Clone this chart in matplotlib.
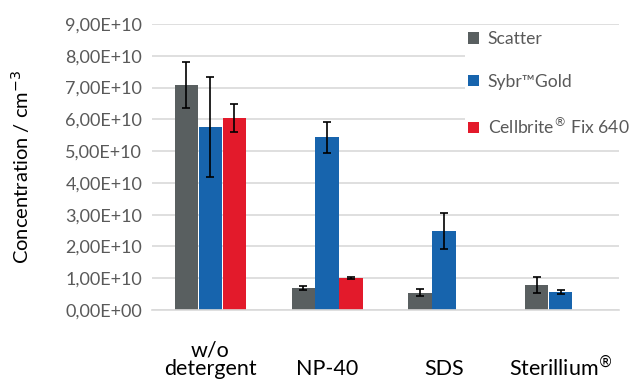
import matplotlib
matplotlib.use("Agg")
import matplotlib.pyplot as plt
import numpy as np
from matplotlib.ticker import FuncFormatter, MultipleLocator

plt.rcParams['font.family'] = ['Lato', 'DejaVu Sans']

groups = ["w/o\ndetergent", "NP-40", "SDS", r"Sterillium$^{\circledR}$"]
series = ["Scatter", "Sybr™Gold", r"Cellbrite$^{\circledR}$ Fix 640"]
colors = ["#595F60", "#1764AD", "#E31A2B"]

# values in 1e10 / cm^3, None = not measured
scatter = [7.08, 0.69, 0.55, 0.78]
scatter_err = [0.73, 0.05, 0.10, 0.26]
sybr = [5.76, 5.43, 2.49, 0.57]
sybr_err = [1.58, 0.50, 0.57, 0.06]
cellbrite = [6.04, 1.01, None, None]
cellbrite_err = [0.43, 0.02, None, None]

values = [scatter, sybr, cellbrite]
errors = [scatter_err, sybr_err, cellbrite_err]

fig = plt.figure(figsize=(6.35, 3.83), dpi=100)
ax = fig.add_axes([152 / 635, (383 - 310) / 383, 467 / 635, 286 / 383])

x = np.arange(len(groups))
w = 0.2
step = 0.205
for i, (vals, errs) in enumerate(zip(values, errors)):
    xs = [xi + (i - 1) * step for xi, v in zip(x, vals) if v is not None]
    ys = [v * 1e10 for v in vals if v is not None]
    es = [e * 1e10 for e in errs if e is not None]
    ax.bar(xs, ys, width=w, color=colors[i], label=series[i], zorder=2)
    ax.errorbar(xs, ys, yerr=es, fmt="none", ecolor="black", elinewidth=1.2,
                capsize=2.6, capthick=1.2, zorder=3)

ax.set_xlim(-0.5, 3.5)
ax.set_ylim(0, 9e10)
ax.yaxis.set_major_locator(MultipleLocator(1e10))
ax.yaxis.set_major_formatter(FuncFormatter(lambda v, p: f"{v:.2E}".replace(".", ",")))
ax.grid(axis="y", color="#D9D9D9", linewidth=1.2, zorder=0)
ax.set_axisbelow(True)
for s in ["top", "right", "left"]:
    ax.spines[s].set_visible(False)
ax.spines["bottom"].set_color("#D9D9D9")
ax.spines["bottom"].set_linewidth(1.2)
ax.tick_params(axis="y", length=0, pad=7, labelsize=13, labelcolor="#595959")
ax.tick_params(axis="x", length=0, pad=50, labelsize=15.5, labelcolor="black")
ax.set_xticks(x)
ax.set_xticklabels(groups, linespacing=0.95)
for lab in ax.get_xticklabels():
    lab.set_va("bottom")

ax.set_ylabel("Concentration / cm$^{-3}$", fontsize=14.5, labelpad=24)

leg = ax.legend(loc="upper left", bbox_to_anchor=(456 / 635, 1 - 19 / 383),
                bbox_transform=fig.transFigure, frameon=True, edgecolor="none",
                facecolor="white", framealpha=1, fontsize=12.6,
                handlelength=0.62, handleheight=0.62, handletextpad=0.5,
                labelspacing=1.5, borderpad=0.2)
for t in leg.get_texts():
    t.set_color("#595959")

fig.savefig("out.png", dpi=100)
